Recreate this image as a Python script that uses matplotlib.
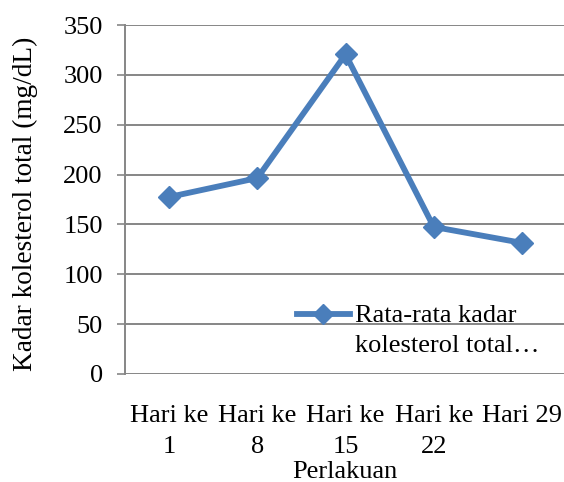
import matplotlib
matplotlib.use("Agg")
import matplotlib.pyplot as plt

# data
hari = ["Hari ke\n1", "Hari ke\n8", "Hari ke\n15", "Hari ke\n22", "Hari 29"]
kolesterol = [177.5, 196.5, 320.5, 147.5, 131.5]
seri = "Rata-rata kadar\nkolesterol total…"
y_ticks = [0, 50, 100, 150, 200, 250, 300, 350]

plt.rcParams['font.family'] = ['Liberation Serif', 'DejaVu Serif']
blue = "#4A7EBB"
grey = "#868686"

fig = plt.figure(figsize=(5.64, 4.82), dpi=100)
ax = fig.add_axes([125 / 564, 1 - 374 / 482, 441 / 564, 349 / 482])

x = list(range(len(hari)))
ax.plot(x, kolesterol, color=blue, lw=4.2, marker="D", markersize=11,
        markerfacecolor=blue, markeredgecolor=blue, label=seri,
        solid_joinstyle="miter")

ax.set_xlim(-0.5, len(hari) - 0.5)
ax.set_ylim(0, 350)
ax.set_yticks(y_ticks)
ax.set_xticks(x)
ax.set_xticklabels(hari, fontsize=19, linespacing=1.5)
ax.tick_params(axis="y", labelsize=19, length=6, width=1.2, color=grey, pad=10)
ax.tick_params(axis="x", length=0, pad=22.5)
ax.grid(axis="y", color=grey, lw=1.4)
ax.set_axisbelow(True)
for s in ["top", "right", "bottom"]:
    ax.spines[s].set_visible(False)
ax.spines["left"].set_color(grey)
ax.spines["left"].set_linewidth(1.4)

fig.text(25 / 564, 1 - 204 / 482, "Kadar kolesterol total (mg/dL)",
         rotation=90, ha="center", va="center", fontsize=19.6)
fig.text(345 / 564, 1 - 472 / 482, "Perlakuan", ha="center", va="center", fontsize=19)

leg = ax.legend(loc="center left", bbox_to_anchor=(297 / 564, 1 - 331 / 482),
                bbox_transform=fig.transFigure, frameon=False, fontsize=19,
                handlelength=2.0, handletextpad=0.2, borderpad=0, borderaxespad=0,
                markerscale=0.9)
for t in leg.get_texts():
    t.set_linespacing(1.5)
# put the handle on the first line of the label, like Excel does
for col in leg._legend_handle_box.get_children():
    for row in col.get_children():
        row.align = "top"

fig.savefig("out.png", dpi=100)
